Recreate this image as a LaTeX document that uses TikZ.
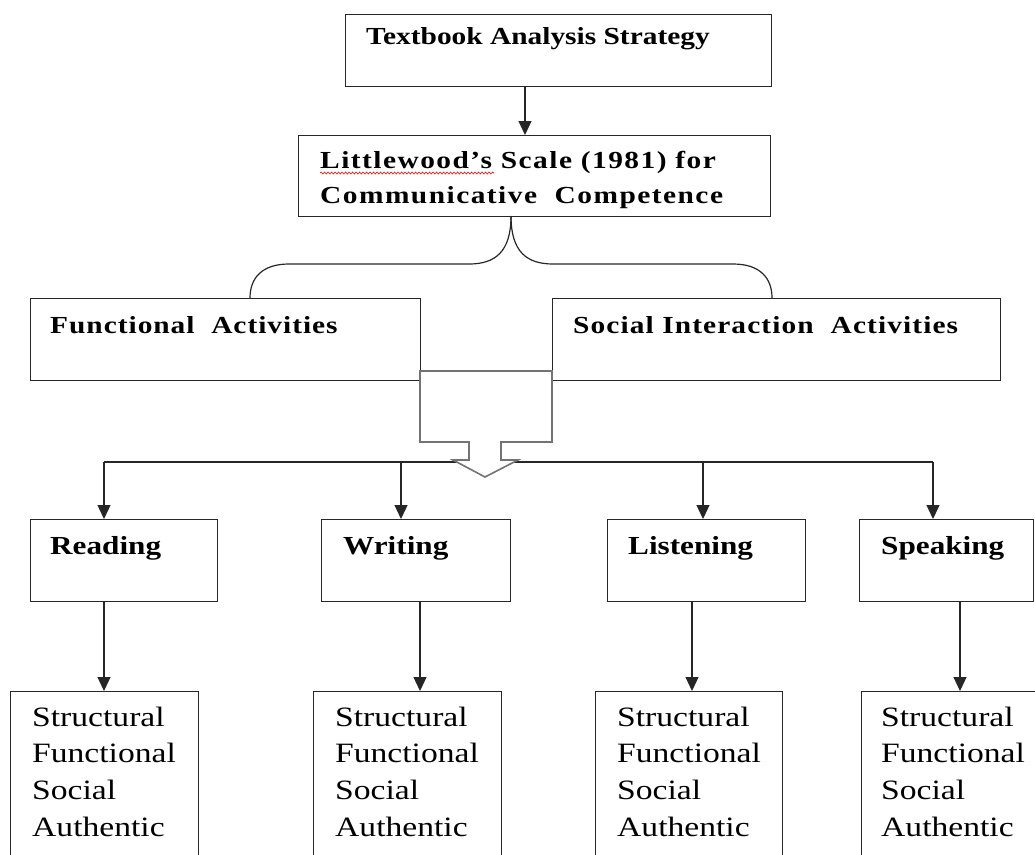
\documentclass[tikz,border=0pt]{standalone}
\usepackage{fontspec}
\setmainfont{Liberation Serif}[FakeStretch=1.2]
\usetikzlibrary{arrows.meta,decorations.pathmorphing}
\begin{document}
\begin{tikzpicture}[x=1pt,y=-1pt,
  box/.style={draw=black!85,line width=1.2pt,inner sep=0pt,anchor=north west},
  lbl/.style={anchor=base west,inner sep=0pt,font=\fontsize{24.5}{30}\selectfont\bfseries},
  sub/.style={anchor=base west,inner sep=0pt,font=\fontsize{26}{30}\selectfont\bfseries},
  itm/.style={anchor=base west,inner sep=0pt,font=\fontsize{28}{34}\selectfont},
  conn/.style={draw=black!85,line width=1.2pt},
  arr/.style={conn,-{Triangle[length=14pt,width=13pt]}},
  blockarrow/.style={draw=black!55,line width=1.6pt,fill=white,line join=miter}
]
\clip (0,0) rectangle (1035,854);
\useasboundingbox (0,0) rectangle (1035,854);

% top boxes
\node[box,minimum width=426pt,minimum height=72pt] (tb) at (345,14) {};
\node[box,minimum width=472pt,minimum height=81pt] (lw) at (298,135) {};
\node[box,minimum width=390pt,minimum height=82pt] (fa) at (30,298) {};
\node[box,minimum width=448pt,minimum height=82pt] (si) at (552,298) {};

% skill boxes
\node[box,minimum width=187pt,minimum height=82pt] (rd) at (30,519) {};
\node[box,minimum width=189pt,minimum height=82pt] (wr) at (321,519) {};
\node[box,minimum width=198pt,minimum height=82pt] (ls) at (607,519) {};
\node[box,minimum width=174pt,minimum height=82pt] (sp) at (859,519) {};

% bottom boxes
\node[box,minimum width=188pt,minimum height=200pt] (b1) at (10,691) {};
\node[box,minimum width=188pt,minimum height=200pt] (b2) at (313,691) {};
\node[box,minimum width=187pt,minimum height=200pt] (b3) at (595,691) {};
\node[box,minimum width=190pt,minimum height=200pt] (b4) at (861,691) {};

% labels
\node[lbl] (t-tb) at (366,44) {Textbook Analysis Strategy};
\node[lbl] (t-lw1) at (320,168) {\addfontfeatures{LetterSpace=6}Littlewood’s Scale (1981) for};
\node[lbl] (t-lw2) at (320,203) {\addfontfeatures{LetterSpace=6}Communicative~ Competence};
\node[lbl] (t-fa) at (50,333) {\addfontfeatures{LetterSpace=4}Functional~ Activities};
\node[lbl] (t-si) at (573,333) {\addfontfeatures{LetterSpace=4.5}Social Interaction~ Activities};
\draw[red,line width=0.6pt,decorate,decoration={snake,amplitude=1pt,segment length=3.5pt}]
  (320,173) -- (494,173);

\node[sub] (t-rd) at (50,554) {Reading};
\node[sub] (t-wr) at (343,554) {Writing};
\node[sub] (t-ls) at (628,554) {Listening};
\node[sub] (t-sp) at (881,554) {Speaking};

\foreach \c/\x in {1/32,2/335,3/617,4/881}{
  \foreach \w [count=\j from 0] in {Structural,Functional,Social,Authentic}{
    \node[itm] (i\c-\j) at (\x,726+36.7*\j) {\w};
  }
}

% top arrow
\coordinate (a0) at (525,86);
\draw[arr] (a0) -- (a0 |- lw.north);

% brace connector
\coordinate (br) at (511,216);
\coordinate (bl) at (250,298);
\coordinate (brr) at (772,298);
\draw[conn] (br) .. controls (511,252) and (495,264) .. (469,264) -- (289,264)
  .. controls (262,264) and (250,278) .. (bl);
\draw[conn] (br) .. controls (511,252) and (527,264) .. (553,264) -- (733,264)
  .. controls (760,264) and (772,278) .. (brr);

% distribution line and arrows
\coordinate (h1) at (104,462);
\coordinate (h2) at (401,462);
\coordinate (h3) at (703,462);
\coordinate (h4) at (933,462);
\draw[conn] (h1) -- (h4);
\draw[arr] (h1) -- (h1 |- rd.north);
\draw[arr] (h2) -- (h2 |- wr.north);
\draw[arr] (h3) -- (h3 |- ls.north);
\draw[arr] (h4) -- (h4 |- sp.north);

% block arrow
\draw[blockarrow] (420,371) -- (552,371) -- (552,442) -- (501,442) -- (501,460)
  -- (518,460) -- (485,477) -- (453,460) -- (469,460) -- (469,442) -- (420,442) -- cycle;

% skill to items
\coordinate (v1) at (104,601);
\coordinate (v2) at (420,601);
\coordinate (v3) at (692,601);
\coordinate (v4) at (960,601);
\draw[arr] (v1) -- (v1 |- b1.north);
\draw[arr] (v2) -- (v2 |- b2.north);
\draw[arr] (v3) -- (v3 |- b3.north);
\draw[arr] (v4) -- (v4 |- b4.north);
\end{tikzpicture}
\end{document}
